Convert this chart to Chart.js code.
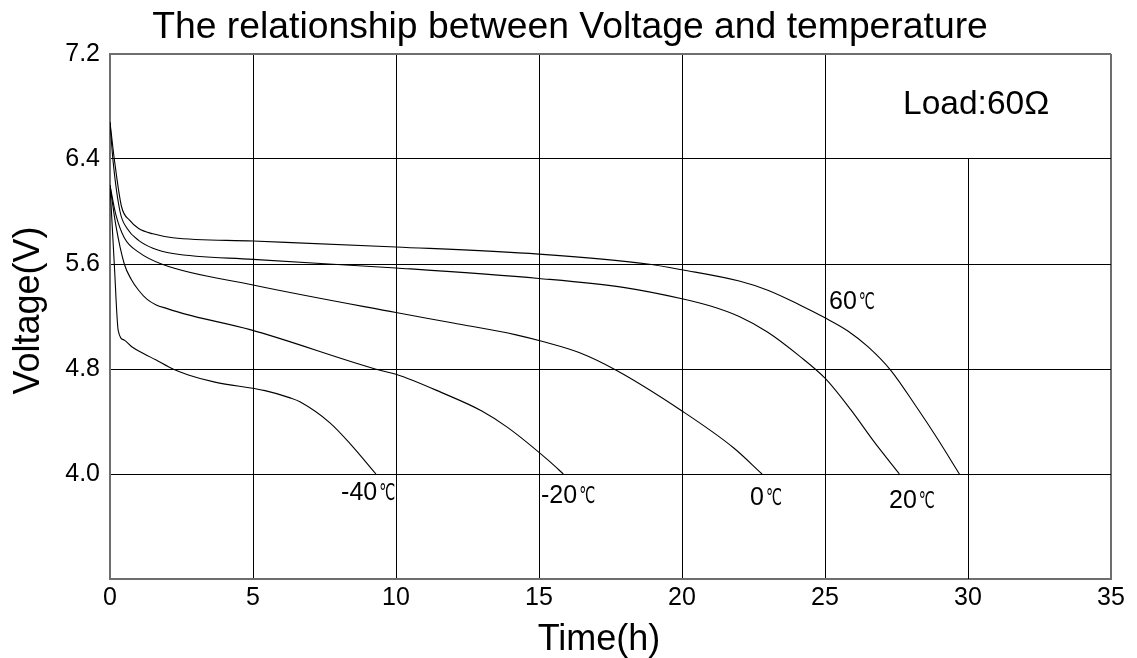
<!DOCTYPE html>
<html>
<head>
<meta charset="utf-8">
<script src="https://cdn.jsdelivr.net/npm/chart.js@4.4.1/dist/chart.umd.min.js"></script>
<style>
  html, body { margin: 0; padding: 0; background: #fff; }
  #wrap { width: 1137px; height: 658px; }
</style>
</head>
<body>
<div id="wrap"><canvas id="c" width="1137" height="658"></canvas></div>
<script>
// ---- data ----
const xTicks = [0, 5, 10, 15, 20, 25, 30, 35];
const yTicks = [3.2, 4.0, 4.8, 5.6, 6.4, 7.2];

const t60 = [0, 0.15, 0.4, 0.7, 1.0, 1.5, 2.2, 5, 10, 15, 18.8, 20, 22, 23, 24.1, 25, 25.8, 26.5, 27.3, 28.2, 28.9, 29.7];
const v60 = [6.68, 6.40, 6.04, 5.93, 5.87, 5.83, 5.80, 5.775, 5.73, 5.675, 5.60, 5.556, 5.47, 5.40, 5.29, 5.19, 5.09, 4.97, 4.79, 4.51, 4.28, 4.00];

const t20 = [0, 0.1, 0.35, 0.6, 1.0, 1.5, 2.2, 5, 10, 15, 18, 20, 21, 22, 23, 24.1, 25, 25.9, 26.7, 27.6];
const v20 = [6.68, 6.40, 6.00, 5.87, 5.78, 5.72, 5.68, 5.635, 5.57, 5.49, 5.42, 5.335, 5.28, 5.20, 5.08, 4.90, 4.73, 4.49, 4.25, 4.00];

const t0 = [0, 0.2, 0.5, 1.0, 1.8, 5, 10, 12, 14.2, 15.2, 16.4, 17.7, 20, 21.8, 22.8];
const v0 = [6.20, 5.98, 5.80, 5.69, 5.60, 5.44, 5.23, 5.15, 5.06, 5.005, 4.925, 4.79, 4.48, 4.20, 4.00];

const tm20 = [0, 0.2, 0.5, 0.75, 1.0, 1.3, 1.6, 2.0, 2.6, 4.9, 9.44, 10, 11.6, 13.0, 13.9, 15.4, 15.85];
const vm20 = [6.20, 5.90, 5.60, 5.48, 5.40, 5.33, 5.29, 5.26, 5.22, 5.10, 4.79, 4.76, 4.62, 4.48, 4.355, 4.09, 4.00];

const tm40 = [0, 0.15, 0.29, 0.5, 0.76, 1.2, 1.6, 2.2, 2.74, 3.67, 5.42, 6.3, 6.64, 7.69, 8.4, 9.3];
const vm40 = [6.20, 5.60, 5.09, 5.02, 4.97, 4.915, 4.87, 4.80, 4.755, 4.70, 4.635, 4.58, 4.55, 4.39, 4.23, 4.00];

const seriesNames = ['60℃', '20℃', '0℃', '-20℃', '-40℃'];
const seriesT = [t60, t20, t0, tm20, tm40];
const seriesV = [v60, v20, v0, vm20, vm40];

// curve labels: [number text, anchor x (h), anchor y (V)]
const curveLabels = [
  ['60', 25.14, 5.307],
  ['20', 27.24, 3.795],
  ['0', 22.38, 3.818],
  ['-20', 15.07, 3.834],
  ['-40', 8.08, 3.857]
];
const loadLabel = ['Load:60Ω', 27.73, 6.81];
const titleText = 'The relationship between Voltage and temperature';
const xTitle = 'Time(h)';
const yTitle = 'Voltage(V)';

// ---- chart ----
const FONT = "'Liberation Sans', Arial, sans-serif";
const datasets = seriesNames.map((name, i) => ({
  label: name,
  data: seriesT[i].map((t, j) => ({ x: t, y: seriesV[i][j] })),
  borderColor: '#000',
  borderWidth: 1.1,
  pointRadius: 0,
  fill: false,
  cubicInterpolationMode: 'monotone'
}));

const decor = {
  id: 'decor',
  beforeDatasetsDraw(chart) {
    const { ctx, scales: { x, y } } = chart;
    // partial vertical grid line at 30 (from bottom up to 6.4)
    ctx.save();
    ctx.strokeStyle = '#000';
    ctx.lineWidth = 1;
    const px = Math.round(x.getPixelForValue(30)) + 0.5;
    ctx.beginPath();
    ctx.moveTo(px, y.getPixelForValue(3.2));
    ctx.lineTo(px, y.getPixelForValue(6.4));
    ctx.stroke();
    ctx.restore();
  },
  afterDraw(chart) {
    const { ctx, scales: { x, y } } = chart;
    ctx.save();
    ctx.fillStyle = '#000';
    // main title
    ctx.textAlign = 'center';
    ctx.textBaseline = 'alphabetic';
    ctx.font = '37.3px ' + FONT;
    ctx.fillText(titleText, 570, 38);
    // x axis title
    ctx.font = '36px ' + FONT;
    ctx.fillText(xTitle, 599, 650);
    // y axis title
    ctx.save();
    ctx.translate(39, (y.top + y.bottom) / 2 - 6);
    ctx.rotate(-Math.PI / 2);
    ctx.fillText(yTitle, 0, 0);
    ctx.restore();
    // curve labels
    ctx.textBaseline = 'middle';
    ctx.textAlign = 'left';
    curveLabels.forEach(([txt, lx, ly]) => {
      const px = x.getPixelForValue(lx);
      const py = y.getPixelForValue(ly);
      ctx.font = '25px ' + FONT;
      ctx.fillText(txt, px, py);
      const w = ctx.measureText(txt).width;
      ctx.save();
      ctx.translate(px + w + 2, py + 1);
      ctx.scale(0.62, 1);
      ctx.font = "23px 'DejaVu Sans', sans-serif";
      ctx.fillText('℃', 0, 0);
      ctx.restore();
    });
    ctx.font = '33.5px ' + FONT;
    ctx.fillText(loadLabel[0], x.getPixelForValue(loadLabel[1]), y.getPixelForValue(loadLabel[2]));
    ctx.restore();
  }
};

new Chart(document.getElementById('c'), {
  type: 'line',
  data: { datasets },
  plugins: [decor],
  options: {
    responsive: false,
    animation: false,
    devicePixelRatio: 1,
    layout: { padding: { left: 0, right: 26, top: 54, bottom: 0 } },
    plugins: {
      legend: { display: false },
      tooltip: { enabled: false },
      title: { display: false }
    },
    scales: {
      x: {
        type: 'linear',
        min: 0, max: 35,
        afterFit(s) { s.height = 79; },
        afterBuildTicks(s) { s.ticks = xTicks.map(v => ({ value: v })); },
        ticks: {
          color: '#000',
          font: { family: FONT, size: 25 },
          padding: 4,
          maxRotation: 0,
          callback: v => String(v)
        },
        grid: {
          drawTicks: false,
          color: c => (c.tick && c.tick.value === 30) ? 'rgba(0,0,0,0)' :
                      (c.tick && (c.tick.value === 0 || c.tick.value === 35)) ? '#6e6e6e' : '#000',
          lineWidth: c => (c.tick && (c.tick.value === 0 || c.tick.value === 35)) ? 2 : 1
        },
        border: { color: '#6e6e6e', width: 2 },
        title: { display: false }
      },
      y: {
        type: 'linear',
        min: 3.2, max: 7.2,
        afterFit(s) { s.width = 110; },
        afterBuildTicks(s) { s.ticks = yTicks.map(v => ({ value: v })); },
        ticks: {
          color: '#000',
          font: { family: FONT, size: 25 },
          padding: 10,
          callback: v => (Math.abs(v - 3.2) < 1e-6 ? '' : Number(v).toFixed(1))
        },
        grid: {
          drawTicks: false,
          color: c => (c.tick && (Math.abs(c.tick.value - 7.2) < 1e-6 || Math.abs(c.tick.value - 3.2) < 1e-6)) ? '#6e6e6e' : '#000',
          lineWidth: c => (c.tick && (Math.abs(c.tick.value - 7.2) < 1e-6 || Math.abs(c.tick.value - 3.2) < 1e-6)) ? 2 : 1
        },
        border: { color: '#6e6e6e', width: 2 },
        title: { display: false }
      }
    }
  }
});
</script>
</body>
</html>
